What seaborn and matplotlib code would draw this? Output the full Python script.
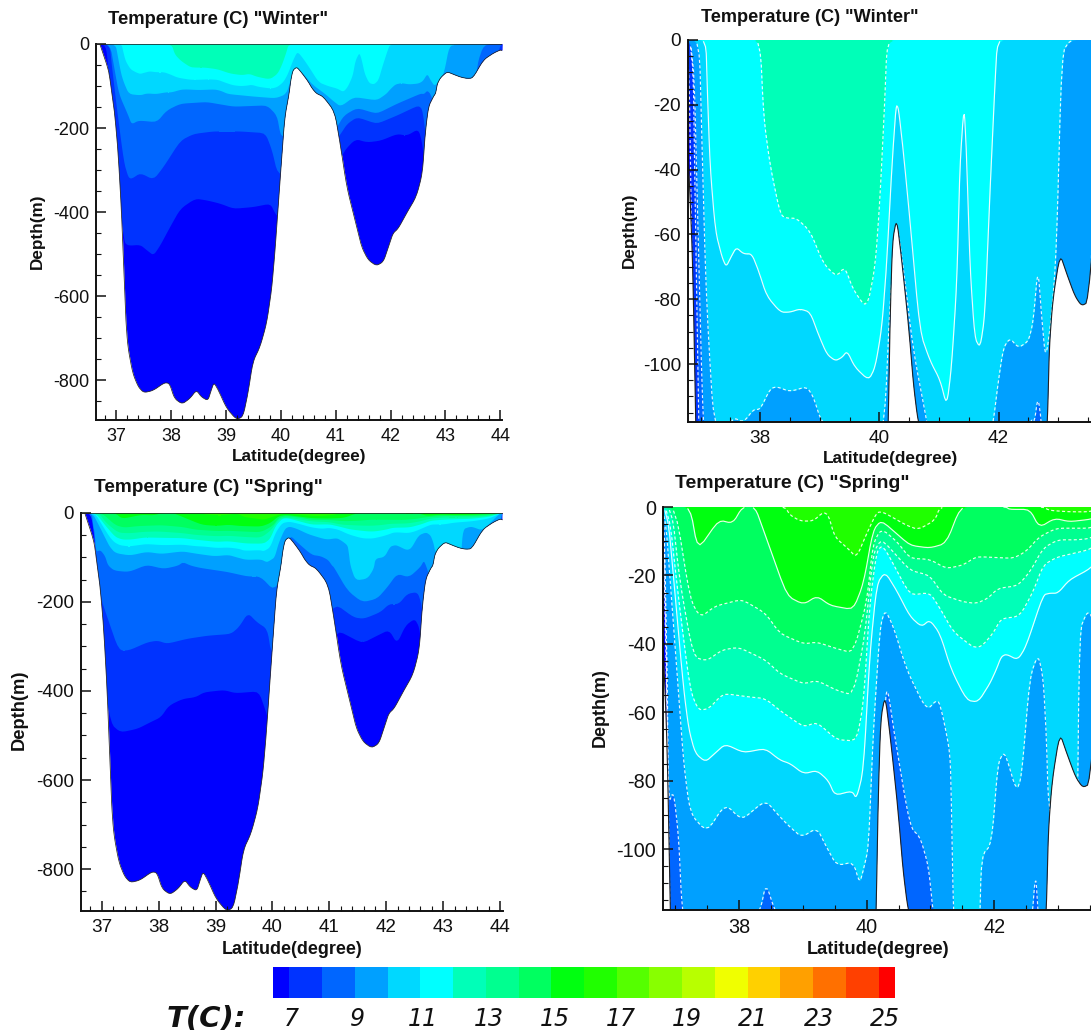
import numpy as np
import matplotlib
matplotlib.use("Agg")
import matplotlib.pyplot as plt
from matplotlib.patches import Polygon
from matplotlib.ticker import MultipleLocator
import seaborn as sns

# ---- sea floor section (latitude, depth) shared by all panels
BED_LAT = [36.70,36.82,36.87,36.92,36.97,37.03,37.09,37.13,37.17,37.21,37.30,37.40,37.50,37.67,37.88,37.97,38.06,38.20,38.34,38.46,38.55,38.67,38.73,38.78,38.86,39.01,39.19,39.31,39.40,39.49,39.62,39.74,39.83,39.89,39.95,40.01,40.07,40.15,40.18,40.22,40.29,40.37,40.49,40.57,40.65,40.77,40.98,41.08,41.20,41.35,41.47,41.59,41.74,41.87,41.96,42.04,42.14,42.29,42.47,42.58,42.63,42.69,42.78,42.82,42.85,42.91,43.03,43.14,43.28,43.39,43.50,43.69,43.87,44.00,44.04]
BED_DEP = [0,-46,-70,-118,-165,-252,-387,-514,-649,-721,-784,-816,-830,-825,-806,-808,-844,-857,-844,-824,-840,-849,-824,-806,-824,-867,-894,-887,-832,-756,-721,-665,-586,-498,-387,-280,-175,-118,-86,-62,-55,-67,-88,-106,-118,-125,-161,-237,-340,-419,-483,-514,-528,-518,-483,-451,-439,-403,-363,-308,-213,-149,-125,-118,-95,-80,-66,-72,-79,-82,-81,-38,-22,-14,-16]

# ---- winter isotherms
W7_LAT = [36.6,36.80,36.85,37.0,37.13,37.21,37.43,37.55,37.67,37.79,37.97,38.16,38.43,38.64,38.89,39.13,39.49,39.80,39.89,40.0,41.0,41.14,41.35,41.56,41.81,42.11,42.29,42.50,42.57,42.61,42.7,43.96,44.0,44.1]
W7_DEP = [0,0,-60,-300,-470,-479,-477,-490,-502,-479,-435,-391,-367,-371,-379,-391,-387,-379,-403,-420,-300,-254,-225,-233,-229,-213,-217,-201,-237,-292,-400,-400,0,0]
W8_LAT = [36.6,36.87,36.91,37.0,37.13,37.21,37.27,37.43,37.67,37.85,38.16,38.40,38.76,39.25,39.71,39.83,39.93,40.5,41.08,41.20,41.38,41.74,42.11,42.50,42.58,42.70,43.90,43.95,44.0,44.1]
W8_DEP = [0,0,-50,-150,-280,-316,-320,-306,-322,-292,-229,-213,-207,-207,-211,-252,-308,-320,-213,-189,-173,-189,-169,-145,-157,-300,-300,-20,0,0]
W9_LAT = [36.6,36.88,36.96,37.04,37.21,37.27,37.40,37.73,37.91,38.16,38.64,39.13,39.74,39.92,39.98,40.04,40.5,41.0,41.14,41.38,41.74,42.11,42.54,42.60,42.66,42.72,42.8,43.5,43.57,43.69,44.1]
W9_DEP = [0,0,-60,-118,-169,-190,-181,-185,-157,-141,-137,-148,-145,-169,-213,-220,-220,-200,-169,-151,-165,-141,-117,-118,-110,-118,-150,-150,-46,0,0]
W10_LAT = [36.6,36.98,37.02,37.08,37.13,37.22,37.43,37.55,37.72,37.89,38.00,38.17,38.28,38.50,38.78,38.89,39.03,39.5,39.9,40.09,40.18,40.29,40.40,40.57,40.80,40.95,41.08,41.32,41.74,41.91,41.99,42.08,42.19,42.33,42.50,42.58,42.66,42.72,42.79,42.89,42.97,43.06,43.20,44.1]
W10_DEP = [0,0,-29,-70,-91,-118,-121,-116.5,-118,-114,-114,-107.6,-107,-108.5,-107,-110,-118,-124,-128,-118,-80,-55.5,-70,-96,-118,-135,-148,-125,-133,-118,-106,-95,-92,-95,-93,-87,-70,-85,-99,-85,-65,-4,0,0]
W11_LAT = [36.6,37.09,37.11,37.16,37.25,37.36,37.43,37.51,37.60,37.72,37.86,37.97,38.11,38.34,38.50,38.67,38.84,38.98,39.12,39.26,39.37,39.46,39.59,39.82,39.93,40.04,40.12,40.21,40.28,40.32,40.40,40.51,40.68,40.85,41.02,41.13,41.21,41.30,41.35,41.42,41.46,41.52,41.60,41.69,41.77,41.85,41.94,41.98,44.1]
W11_DEP = [0,0,-13,-39,-59,-67,-70,-67,-64,-66,-66,-71,-79,-84,-84,-83,-84,-91,-97,-99,-98,-96,-101,-105,-101,-89,-70,-39,-20,-21,-34,-55,-90,-99,-105,-113,-101,-75,-39,-20,-34,-70,-92,-95,-85,-49,-13,0,0]
W12_LAT = [36.6,38.00,38.06,38.17,38.34,38.45,38.61,38.84,39.06,39.28,39.42,39.56,39.79,39.93,40.01,40.09,40.13,44.1]
W12_DEP = [0,0,-24,-39,-54,-55,-55,-59,-69,-73,-70,-77,-83,-70,-49,-19,0,0]

# ---- spring isotherms
S7_LAT = [36.6,36.80,36.86,37.0,37.15,37.32,37.62,37.85,38.03,38.17,38.41,38.64,38.79,39.14,39.34,39.75,39.87,39.95,41.0,41.13,41.57,41.83,42.04,42.18,42.33,42.49,42.57,42.61,42.7,43.96,44.0,44.1]
S7_DEP = [0,0,-30,-350,-473,-492,-484,-469,-458,-432,-417,-413,-402,-397,-404,-400,-443,-480,-320,-263,-292,-275,-262,-293,-252,-237,-256,-301,-400,-400,0,0]
S8_LAT = [36.6,36.80,36.86,36.97,37.09,37.29,37.47,37.79,37.97,38.14,38.49,38.85,39.26,39.40,39.56,39.72,39.9,39.97,40.5,41.1,41.42,41.6,41.89,42.04,42.21,42.36,42.54,42.61,42.7,43.96,44.0,44.1]
S8_DEP = [0,0,-50,-189,-234,-308,-308,-290,-286,-293,-282,-275,-271,-256,-224,-245,-260,-316,-320,-204,-234,-237,-222,-204,-204,-181,-177,-204,-300,-300,0,0]
S9_LAT = [36.6,36.82,36.84,36.87,36.89,36.97,37.05,37.10,37.21,37.47,37.78,38.08,38.33,38.42,38.56,38.73,39.2,39.55,39.78,40.02,40.2,40.29,40.33,40.44,40.68,40.84,40.97,41.04,41.07,41.31,41.57,41.83,42.01,42.18,42.39,42.59,42.65,42.69,42.8,43.95,44.0,44.1]
S9_DEP = [0,0,-27,-46,-86.6,-83,-96.4,-117,-129,-132,-116,-125,-118,-110,-118,-123,-132,-142,-142,-174,-130,-56,-53,-67,-93.6,-96.5,-105,-118,-121,-174,-200,-192,-166,-136,-144,-121,-107,-118,-160,-160,0,0]
S10_LAT = [36.6,36.83,36.94,37.05,37.13,37.23,37.49,37.78,38.04,38.41,38.64,38.80,38.98,39.22,39.37,39.53,39.79,39.89,39.95,40.03,40.10,40.21,40.29,40.42,40.63,40.94,41.12,41.20,41.31,41.33,41.36,41.45,41.66,41.77,41.80,41.96,42.06,42.14,42.19,42.35,42.43,42.56,42.69,42.77,42.82,42.85,43.0,43.30,43.34,43.45,43.51,43.68,43.95,44.0,44.1]
S10_DEP = [0,0,-27,-55,-75,-89.6,-95,-86.8,-91.5,-85.7,-90.6,-93.6,-96.5,-93.8,-99.4,-104.8,-103.8,-110,-106,-99.4,-67,-35,-30,-35,-47.7,-59.5,-56,-61.4,-72,-87,-118,-151,-147,-125,-102,-98.5,-75,-72,-73,-83,-79,-49.7,-43,-50,-67,-87,-100,-100,-36,-31,-31,-39,-5,0,0]
S11_LAT = [36.6,36.87,37.0,37.13,37.21,37.31,37.47,37.62,37.78,38.07,38.41,38.64,38.80,39.01,39.22,39.40,39.50,39.77,39.84,39.95,40.05,40.16,40.29,40.47,40.68,40.86,40.99,41.15,41.33,41.57,41.75,41.93,42.03,42.11,42.19,42.37,42.50,42.77,42.87,43.0,43.18,43.51,43.8,44.0,44.1]
S11_DEP = [0,0,-27,-53.5,-65,-72,-74.5,-72,-69.3,-71.8,-70.6,-74,-75,-78,-77,-80,-84.3,-83,-85.3,-77,-43,-22.4,-19,-24.4,-32,-35,-33,-37,-47.7,-56.5,-57,-51.7,-47.7,-43.8,-43,-44.7,-40.8,-25.7,-25.2,-25.2,-21.3,-18,-12,0,0]
S12_LAT = [36.6,36.89,37.05,37.23,37.36,37.52,37.75,38.15,38.41,38.64,39.01,39.22,39.53,39.84,39.95,40.05,40.16,40.26,40.68,40.99,41.15,41.36,41.67,41.80,41.98,42.11,42.40,42.61,42.77,42.98,43.51,43.8,44.0,44.1]
S12_DEP = [0,0,-27,-53.5,-59.4,-59,-54.5,-55.5,-56,-59.5,-64.3,-62.9,-68,-68.4,-57.5,-28,-12.7,-11.2,-25.8,-25,-29.6,-36.5,-41,-40.8,-37,-32.6,-32,-24.8,-17,-14.7,-12.4,-8,0,0]
S13_LAT = [36.6,36.94,37.07,37.28,37.49,37.73,37.99,38.41,38.64,39.01,39.22,39.53,39.79,39.97,40.10,40.23,40.68,40.99,41.2,41.51,41.72,41.90,42.06,42.37,42.56,42.77,43.0,43.29,43.51,43.8,44.0,44.1]
S13_DEP = [0,0,-22,-43.8,-45,-41.8,-41,-44.7,-48.7,-51.7,-50.7,-53.6,-55,-38,-13.6,-9.3,-18.5,-20,-25.7,-27.7,-28.2,-26.7,-23.8,-23,-19,-12,-9.6,-9.6,-9.2,-6,0,0]
S14_LAT = [36.6,37.0,37.23,37.39,37.62,38.04,38.41,38.64,39.01,39.22,39.53,39.79,40.00,40.10,40.23,40.47,40.68,40.99,41.25,41.51,41.72,42.30,42.50,42.71,42.98,43.51,43.8,44.0,44.1]
S14_DEP = [0,0,-27,-32.3,-29,-27,-31,-37,-40,-39.5,-41.4,-42.7,-28,-10.7,-6.3,-10,-15,-15.3,-18,-17,-14.5,-15,-13,-8.7,-6.2,-6.2,-4,0,0]
S15_LAT = [36.6,37.23,37.35,37.68,37.90,38.05,38.25,38.38,38.75,39.01,39.22,39.43,39.79,39.95,40.10,40.23,40.68,40.99,41.25,41.47,42.19,42.24,42.56,42.71,42.95,43.18,43.51,43.8,44.0,44.1]
S15_DEP = [0,0,-12.6,-3.8,-4.8,0,0,-6.7,-26,-28.5,-26,-28.8,-30,-22.4,-6.8,-3.9,-11.2,-12,-10.6,0,0,-0.7,-0.7,-6,-3.3,-4.3,-3.6,-2,0,0]
S16_LAT = [36.6,38.72,38.80,38.96,39.16,39.32,39.40,39.50,39.71,39.84,40.00,40.16,40.26,40.63,40.81,41.07,41.15,42.77,42.87,43.18,43.51,43.7,44.1]
S16_DEP = [0,0,-2.4,-4.1,-4.1,-1.5,-2.4,-8.8,-12.2,-14.8,-7.8,-1.5,-1.5,-5.4,-6.6,-3.9,0,0,-1,-1.4,-1.4,0,0]

# ---- colour scale
T_EDGES = [6.5,7,8,9,10,11,12,13,14,15,16,17,18,19,20,21,22,23,24,25,25.5]
T_COLORS = ["#0000ff","#0033ff","#0066ff","#00a0ff","#00d8ff","#00ffff","#00ffb8","#00ff90","#00ff60","#00ff10",
            "#20ff00","#55ff00","#88ff00","#b8ff00","#f0ff00","#ffd000","#ffa000","#ff7000","#ff4000","#ff0000"]
T_LABELS = [7,9,11,13,15,17,19,21,23,25]

WINTER = [(7,W7_LAT,W7_DEP),(8,W8_LAT,W8_DEP),(9,W9_LAT,W9_DEP),(10,W10_LAT,W10_DEP),(11,W11_LAT,W11_DEP),(12,W12_LAT,W12_DEP)]
SPRING = [(7,S7_LAT,S7_DEP),(8,S8_LAT,S8_DEP),(9,S9_LAT,S9_DEP),(10,S10_LAT,S10_DEP),(11,S11_LAT,S11_DEP),(12,S12_LAT,S12_DEP),
          (13,S13_LAT,S13_DEP),(14,S14_LAT,S14_DEP),(15,S15_LAT,S15_DEP),(16,S16_LAT,S16_DEP)]

W, H = 1091, 1030
sns.set_theme(style="ticks")
plt.rcParams["font.family"] = ["Liberation Sans", "DejaVu Sans"]
plt.rcParams["axes.unicode_minus"] = False
fig = plt.figure(figsize=(W/100, H/100), dpi=100, facecolor="white")


def rounded(lat, dep, r=0.2, n=2, reach=0.05):
    """Round the corners of a read polyline so it draws as a smooth contour."""
    pts = np.c_[lat, dep].astype(float)
    for _ in range(n):
        p, q = pts[:-1], pts[1:]
        dx = np.maximum(q[:, 0]-p[:, 0], 1e-9)
        t = np.minimum(r, reach/dx)[:, None]
        mid = np.empty((2*len(p), 2))
        mid[0::2] = p + t*(q-p)
        mid[1::2] = q - t*(q-p)
        pts = np.vstack([pts[:1], mid, pts[-1:]])
    return pts[:, 0], pts[:, 1]


def px_axes(l, r, t, b):
    return fig.add_axes([l/W, 1-b/H, (r-l)/W, (b-t)/H])


def label(x, y, s, size, **kw):
    fig.text(x/W, 1-y/H, s, fontsize=size, ha="center", va="center", color="#111111", **kw)


def draw(box, xlim, ylim, curves, solid, contour, xmaj, xmin, ymaj, ymin, tsize):
    ax = px_axes(*box)
    bx, by = rounded(BED_LAT, BED_DEP)
    clip = Polygon(np.vstack([np.c_[bx, by], [bx[-1], 0]]), closed=True, transform=ax.transData)
    ax.fill_between(bx, by, 0, color=T_COLORS[0], lw=0).set_clip_path(clip)
    for temp, lat, dep in curves:
        cx, cy = rounded(lat, dep)
        ax.fill_between(cx, cy, 0, color=T_COLORS[temp-6], lw=0).set_clip_path(clip)
    if contour:
        for temp, lat, dep in curves:
            cx, cy = rounded(lat, dep)
            idx = np.where(cy < 0)[0]
            for run in np.split(idx, np.where(np.diff(idx) > 1)[0] + 1):
                ls = "-" if temp in solid else (0, (2.6, 2.0))
                sns.lineplot(x=cx[run], y=cy[run], ax=ax, color="white", lw=0.85, linestyle=ls,
                             estimator=None, sort=False, legend=False, alpha=0.9)
                ax.lines[-1].set_clip_path(clip)
    sns.lineplot(x=bx, y=by, ax=ax, color="#222222", lw=0.8 if contour else 0.55,
                 estimator=None, sort=False, legend=False)
    if not contour:
        ax.axhline(0, color="#222222", lw=1.1, zorder=3)
    ax.set_xlim(*xlim)
    ax.set_ylim(*ylim)
    ax.set_xlabel("")
    ax.set_ylabel("")
    ax.xaxis.set_major_locator(MultipleLocator(xmaj))
    ax.xaxis.set_minor_locator(MultipleLocator(xmin))
    ax.yaxis.set_major_locator(MultipleLocator(ymaj))
    ax.yaxis.set_minor_locator(MultipleLocator(ymin))
    ax.tick_params(which="major", direction="in", length=7, width=1.1, colors="#111111",
                   labelsize=tsize, pad=6, labelcolor="#111111")
    ax.tick_params(which="minor", direction="in", length=3.5, width=0.8, colors="#111111")
    ax.tick_params(axis="y", which="major", pad=5)
    sns.despine(ax=ax)
    for s in ("left", "bottom"):
        ax.spines[s].set_linewidth(1.4)
        ax.spines[s].set_color("#111111")
    ax.set_axisbelow(False)
    return ax


draw((96, 502, 44, 420), (36.63, 44.03), (-895, 0), WINTER, (11,), False, 1, 0.2, 200, 50, 13)
draw((688, 1091, 40, 421.7), (36.79, 43.55), (-117.8, 0), WINTER, (11,), True, 2, 0.5, 20, 5, 13.7)
draw((80.7, 503, 512.7, 911), (36.63, 44.05), (-894, 0), SPRING, (11, 15), False, 1, 0.2, 200, 50, 13.6)
draw((662.7, 1091, 507, 910), (36.80, 43.52), (-117.8, 0), SPRING, (11, 15), True, 2, 0.5, 20, 5, 14.3)

TITLE_W = 'Temperature (C) "Winter"'
TITLE_S = 'Temperature (C) "Spring"'
label(218, 20, TITLE_W, 13.2, fontweight="bold")
label(810, 18, TITLE_W, 13.1, fontweight="bold")
label(208, 488, TITLE_S, 13.7, fontweight="bold")
label(792, 484, TITLE_S, 14, fontweight="bold")

XLABEL, YLABEL = "Latitude(degree)", "Depth(m)"
label(299, 457, XLABEL, 12.3, fontweight="bold")
label(890, 459, XLABEL, 12.4, fontweight="bold")
label(292, 950, XLABEL, 12.9, fontweight="bold")
label(878, 949, XLABEL, 13.1, fontweight="bold")
label(37, 231, YLABEL, 12.3, fontweight="bold", rotation=90)
label(629, 230, YLABEL, 12.3, fontweight="bold", rotation=90)
label(19, 710, YLABEL, 13.2, fontweight="bold", rotation=90)
label(600, 708, YLABEL, 13, fontweight="bold", rotation=90)

# colour bar
cax = px_axes(273, 895, 967, 998)
cmap = matplotlib.colors.ListedColormap(T_COLORS)
cax.pcolormesh(T_EDGES, [0, 1], np.arange(len(T_COLORS))[None, :], cmap=cmap,
               vmin=-0.5, vmax=len(T_COLORS)-0.5)
cax.axis("off")
label(206, 1018, "T(C):", 21, fontweight="bold", style="italic", family="DejaVu Sans")
for i, t in enumerate(T_LABELS):
    label(291 + 66*i, 1019, str(t), 17, style="italic", family="DejaVu Sans")

fig.savefig("out.png", dpi=100)
